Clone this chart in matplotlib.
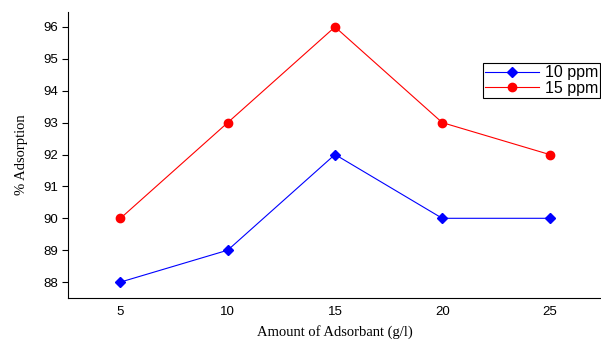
import matplotlib
matplotlib.use('Agg')
import matplotlib.pyplot as plt

dose = [5, 10, 15, 20, 25]
ppm10 = [88, 89, 92, 90, 90]
ppm15 = [90, 93, 96, 93, 92]
yticks = [88, 89, 90, 91, 92, 93, 94, 95, 96]

fig = plt.figure(figsize=(6.01, 3.41), dpi=100)
ax = fig.add_axes([0.113, 0.126, 0.887, 0.839])

ax.plot(dose, ppm10, color='blue', lw=0.8, marker='D', ms=5, label='10 ppm')
ax.plot(dose, ppm15, color='red', lw=0.8, marker='o', ms=6, label='15 ppm')

ax.set_xlim(2.55, 27.4)
ax.set_ylim(87.5, 96.47)
ax.set_xticks(dose)
ax.set_yticks(yticks)
for s in ['top', 'right']:
    ax.spines[s].set_visible(False)
ax.tick_params(axis='x', length=0, pad=6)
ax.tick_params(axis='y', length=4, width=0.8, pad=3)
for lab in ax.get_xticklabels() + ax.get_yticklabels():
    lab.set_fontfamily('Liberation Sans')
    lab.set_fontsize(9.5)

ax.set_xlabel('Amount of Adsorbant (g/l)', family='Liberation Serif', fontsize=10.5, labelpad=5)
ax.set_ylabel('% Adsorption', family='Liberation Serif', fontsize=10.5, labelpad=11)

leg = ax.legend(loc='upper left', bbox_to_anchor=(0.778, 0.82), prop={'family': 'Liberation Sans', 'size': 11.5},
                fancybox=False, edgecolor='black', framealpha=1, borderpad=0.12, labelspacing=0.02,
                handlelength=3.4, handletextpad=0.4, borderaxespad=0)
leg.get_frame().set_linewidth(0.8)

fig.savefig('out.png', dpi=100)
